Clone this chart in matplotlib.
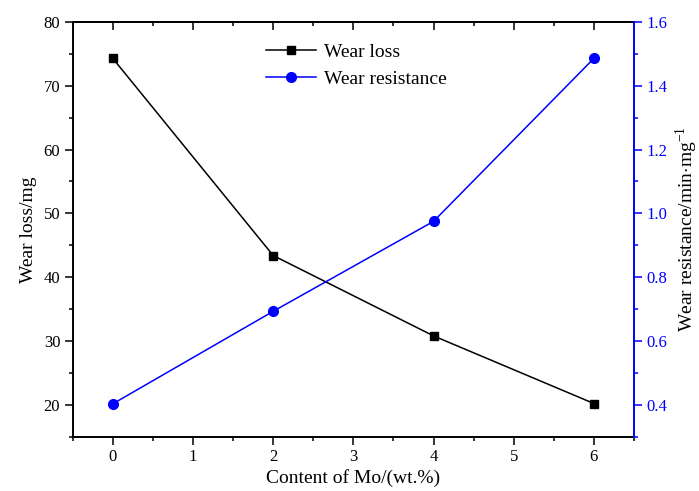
import numpy as np
import matplotlib
matplotlib.use('Agg')
import matplotlib.pyplot as plt
from matplotlib.ticker import MultipleLocator

plt.rcParams['font.family'] = ['Liberation Serif', 'DejaVu Serif']
plt.rcParams['mathtext.fontset'] = 'custom'
plt.rcParams['mathtext.rm'] = 'Liberation Serif'

# données
mo_content = [0, 2, 4, 6]
wear_loss = [74.3, 43.4, 30.8, 20.2]
wear_resistance = [0.403, 0.693, 0.975, 1.486]

fig = plt.figure(figsize=(6.99, 4.91), dpi=100)
ax = fig.add_axes([0.104, 0.1106, 0.803, 0.8446])
ax2 = ax.twinx()

l1, = ax.plot(mo_content, wear_loss, color='black', lw=1.1, marker='s', ms=6,
              label='Wear loss')
l2, = ax2.plot(mo_content, wear_resistance, color='blue', lw=1.1, marker='o', ms=7,
               label='Wear resistance')

ax.set_xlim(-0.5, 6.5)
ax.set_ylim(15, 80)
ax2.set_ylim(0.3, 1.6)

ax.xaxis.set_major_locator(MultipleLocator(1))
ax.xaxis.set_minor_locator(MultipleLocator(0.5))
ax.yaxis.set_major_locator(MultipleLocator(10))
ax.yaxis.set_minor_locator(MultipleLocator(5))
ax2.yaxis.set_major_locator(MultipleLocator(0.2))
ax2.yaxis.set_minor_locator(MultipleLocator(0.1))
ax2.yaxis.set_major_formatter(matplotlib.ticker.FormatStrFormatter('%.1f'))

ax.tick_params(axis='both', which='major', direction='out', length=6, width=1.1,
               labelsize=12, pad=3)
ax.tick_params(axis='both', which='minor', direction='out', length=3, width=1.1)
ax2.tick_params(axis='y', which='major', direction='out', length=6, width=1.1,
                labelsize=12, colors='blue', pad=3)
ax2.tick_params(axis='y', which='minor', direction='out', length=3, width=1.1,
                colors='blue')

# ticks du haut, vers l'intérieur
top = ax.secondary_xaxis('top')
top.xaxis.set_major_locator(MultipleLocator(1))
top.xaxis.set_minor_locator(MultipleLocator(0.5))
top.tick_params(which='major', direction='in', length=6, width=1.1, labeltop=False)
top.tick_params(which='minor', direction='in', length=3, width=1.1)
top.spines['top'].set_linewidth(1.4)

for s in ['left', 'bottom', 'top']:
    ax.spines[s].set_linewidth(1.4)
ax2.spines['right'].set_color('blue')
ax2.spines['right'].set_linewidth(1.4)
ax2.spines['left'].set_visible(False)
ax2.spines['top'].set_visible(False)
ax2.spines['bottom'].set_visible(False)
ax.spines['right'].set_visible(False)

ax.set_xlabel('Content of Mo/(wt.%)', fontsize=14, labelpad=3)
ax.set_ylabel('Wear loss/mg', fontsize=14, labelpad=5)
ax2.set_ylabel('Wear resistance/min$\\cdot$mg$^{-1}$', fontsize=14)
ax2.yaxis.set_label_coords(1.07, 0.5)

ax.legend(handles=[l1, l2], loc='upper center', bbox_to_anchor=(0.505, 0.99),
          frameon=False, fontsize=14, handlelength=2.6, handletextpad=0.4,
          labelspacing=0.45)

fig.savefig('out.png', dpi=100)
